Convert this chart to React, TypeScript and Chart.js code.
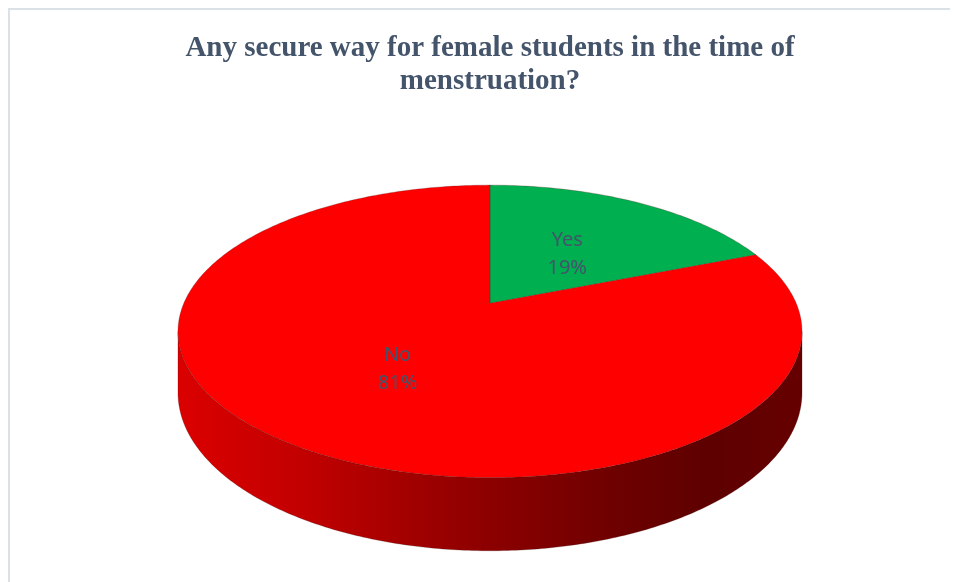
import React, { useEffect, useRef } from "react";
import { Chart, registerables } from "chart.js";

Chart.register(...registerables);

const categories = ["Yes", "No"];
const values = [19, 81];
const sliceColors = ["#00B050", "#FF0000"];
const titleLines = ["Any secure way for female students in the time of", "menstruation?"];

// perspective look of the 3D pie
const PERSPECTIVE = 0.192; // how much nearer parts grow
const TILT = 0.46; // vertical squash of the disc
const DEPTH = 0.193; // thickness relative to radius
const LABEL_POS = 0.49; // label position, fraction of radius

function hexToRgb(hex: string) {
  const h = hex.replace("#", "");
  return [parseInt(h.slice(0, 2), 16), parseInt(h.slice(2, 4), 16), parseInt(h.slice(4, 6), 16)];
}
function shade(hex: string, f: number) {
  const [r, g, b] = hexToRgb(hex);
  return `rgb(${Math.round(r * f)},${Math.round(g * f)},${Math.round(b * f)})`;
}

const pie3d = {
  id: "pie3d",
  beforeDatasetsDraw(chart: any) {
    const ctx: CanvasRenderingContext2D = chart.ctx;
    const meta = chart.getDatasetMeta(0);
    const ca = chart.chartArea;
    const k = PERSPECTIVE;
    const silhouette = 1 / Math.sqrt(1 - k * k);
    const cx = (ca.left + ca.right) / 2;
    const s = (ca.right - ca.left) / 2 / silhouette;
    const st = s * TILT;
    const cy0 = ca.top + st / (1 + k);
    const h = s * DEPTH;
    const proj = (a: number, f: number, bottom = false) => {
      const X = f * Math.cos(a);
      const Y = -f * Math.sin(a);
      const d = 1 + k * Y;
      return [cx + (s * X) / d, cy0 - (st * Y) / d + (bottom ? h / d : 0)];
    };
    const visA = Math.asin(k);
    const visB = Math.PI - Math.asin(k);
    const steps = 240;

    ctx.save();
    // sides
    meta.data.forEach((el: any, i: number) => {
      const color = sliceColors[i];
      for (const shift of [-2 * Math.PI, 0, 2 * Math.PI]) {
        const a0 = Math.max(el.startAngle + shift, visA);
        const a1 = Math.min(el.endAngle + shift, visB);
        if (a1 <= a0) continue;
        const grad = ctx.createLinearGradient(cx - s * silhouette, 0, cx + s * silhouette, 0);
        grad.addColorStop(0, shade(color, 0.86));
        grad.addColorStop(0.2, shade(color, 0.76));
        grad.addColorStop(0.45, shade(color, 0.58));
        grad.addColorStop(0.7, shade(color, 0.43));
        grad.addColorStop(0.85, shade(color, 0.37));
        grad.addColorStop(1, shade(color, 0.4));
        ctx.beginPath();
        for (let j = 0; j <= steps; j++) {
          const a = a0 + ((a1 - a0) * j) / steps;
          const [x, y] = proj(a, 1);
          if (j === 0) ctx.moveTo(x, y);
          else ctx.lineTo(x, y);
        }
        for (let j = steps; j >= 0; j--) {
          const a = a0 + ((a1 - a0) * j) / steps;
          const [x, y] = proj(a, 1, true);
          ctx.lineTo(x, y);
        }
        ctx.closePath();
        ctx.fillStyle = grad;
        ctx.fill();
        ctx.strokeStyle = "rgba(60,0,0,0.25)";
        ctx.lineWidth = 1;
        ctx.stroke();
      }
    });
    // top faces
    meta.data.forEach((el: any, i: number) => {
      ctx.beginPath();
      const [px, py] = proj(0, 0);
      ctx.moveTo(px, py);
      const n = Math.max(8, Math.round(((el.endAngle - el.startAngle) / (2 * Math.PI)) * 400));
      for (let j = 0; j <= n; j++) {
        const a = el.startAngle + ((el.endAngle - el.startAngle) * j) / n;
        const [x, y] = proj(a, 1);
        ctx.lineTo(x, y);
      }
      ctx.closePath();
      ctx.fillStyle = el.options.backgroundColor;
      ctx.fill();
      ctx.strokeStyle = "rgba(90,30,30,0.35)";
      ctx.lineWidth = 0.8;
      ctx.stroke();
    });
    // labels
    const total = values.reduce((a, b) => a + b, 0);
    ctx.fillStyle = "#44546A";
    ctx.font = '20px "Noto Sans"';
    ctx.textAlign = "center";
    ctx.textBaseline = "middle";
    meta.data.forEach((el: any, i: number) => {
      const mid = (el.startAngle + el.endAngle) / 2;
      const [x, y] = proj(mid, LABEL_POS);
      const pct = Math.round((values[i] / total) * 100) + "%";
      ctx.fillText(String(chart.data.labels[i]), x - 1, y - 10);
      ctx.fillText(pct, x - 1, y + 18);
    });
    ctx.restore();
    return false;
  },
};

export default function App() {
  const ref = useRef<HTMLCanvasElement | null>(null);
  useEffect(() => {
    document.documentElement.style.overflow = "hidden";
    document.body.style.overflow = "hidden";
    const chart = new Chart(ref.current as HTMLCanvasElement, {
      type: "pie",
      data: {
        labels: categories,
        datasets: [{ data: values, backgroundColor: sliceColors, borderWidth: 0 }],
      },
      options: {
        animation: false,
        responsive: false,
        events: [],
        layout: { padding: { left: 168, right: 156, top: 0, bottom: 32 } },
        plugins: {
          legend: { display: false },
          tooltip: { enabled: false },
          title: {
            display: true,
            text: titleLines,
            color: "#44546A",
            font: { family: '"Liberation Serif", "Times New Roman", serif', size: 29, weight: "bold", lineHeight: 1.14 },
            padding: { top: 22, bottom: 87 },
          },
        },
      },
      plugins: [pie3d],
    } as any);
    return () => chart.destroy();
  }, []);
  return (
    <div
      style={{
        width: 950,
        height: 574,
        borderTop: "2px solid #DCE1E8",
        borderLeft: "2px solid #DCE1E8",
        boxSizing: "border-box",
        background: "#fff",
      }}
    >
      <canvas ref={ref} width={948} height={572} style={{ display: "block" }} />
    </div>
  );
}
